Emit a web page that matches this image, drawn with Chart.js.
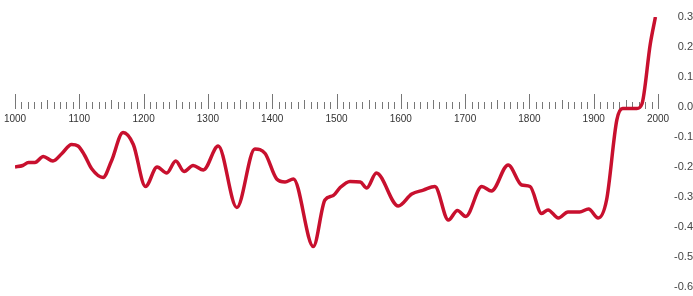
<!DOCTYPE html>
<html>
<head>
<meta charset="utf-8">
<script src="https://cdn.jsdelivr.net/npm/chart.js@4.4.0/dist/chart.umd.min.js"></script>
<style>
  html, body { margin: 0; padding: 0; background: #fff; overflow: hidden; }
  #wrap { width: 693px; height: 296px; }
</style>
</head>
<body>
<div id="wrap"><canvas id="myChart"></canvas></div>
<script>
// years and temperature anomaly
var years = [1000, 1012, 1021, 1031, 1044, 1059, 1073, 1088, 1098, 1108,
  1119, 1137, 1150, 1168, 1184, 1203, 1221, 1236, 1250, 1263,
  1277, 1293, 1316, 1345, 1373, 1389, 1407, 1420, 1433, 1464,
  1482, 1495, 1505, 1521, 1537, 1547, 1562, 1596, 1617, 1635,
  1653, 1674, 1688, 1701, 1726, 1741, 1767, 1788, 1801, 1819,
  1829, 1845, 1860, 1878, 1892, 1907, 1920, 1936, 1945, 1967,
  1975, 1988, 1996];
var anomaly = [-0.20, -0.195, -0.185, -0.185, -0.165, -0.18, -0.155, -0.125, -0.13, -0.16,
  -0.205, -0.235, -0.18, -0.085, -0.125, -0.265, -0.20, -0.22, -0.18, -0.215,
  -0.195, -0.21, -0.13, -0.335, -0.14, -0.155, -0.24, -0.25, -0.24, -0.465,
  -0.31, -0.295, -0.27, -0.248, -0.25, -0.27, -0.22, -0.33, -0.29, -0.277,
  -0.265, -0.377, -0.345, -0.365, -0.265, -0.28, -0.193, -0.26, -0.265, -0.355,
  -0.343, -0.37, -0.35, -0.35, -0.34, -0.37, -0.31, -0.043, -0.005, -0.005,
  0.01, 0.21, 0.30];

var yTicks = [0.3, 0.2, 0.1, 0.0, -0.1, -0.2, -0.3, -0.4, -0.5, -0.6];

var points = years.map(function (y, i) { return { x: y, y: anomaly[i] }; });

// tick marks standing up from the zero line, every 10 years
var rulerTicks = {
  id: "rulerTicks",
  beforeDatasetsDraw: function (chart) {
    var ctx = chart.ctx;
    var xs = chart.scales.x, ys = chart.scales.y;
    var y0 = ys.getPixelForValue(0);
    ctx.save();
    ctx.strokeStyle = "#777";
    ctx.lineWidth = 1;
    for (var yr = 1000; yr <= 2000; yr += 10) {
      var len = yr % 100 === 0 ? 15 : (yr % 50 === 0 ? 9 : 7);
      var px = Math.round(xs.getPixelForValue(yr)) + 0.5;
      ctx.beginPath();
      ctx.moveTo(px, y0 + 2);
      ctx.lineTo(px, y0 + 2 - len);
      ctx.stroke();
    }
    ctx.restore();
  }
};

new Chart("myChart", {
  type: "line",
  data: {
    datasets: [{
      data: points,
      borderColor: "#c8102e",
      borderWidth: 3.5,
      pointRadius: 0,
      fill: false,
      tension: 0.4,
      cubicInterpolationMode: "monotone"
    }]
  },
  options: {
    responsive: true,
    maintainAspectRatio: false,
    animation: false,
    layout: { padding: { left: 15, top: 17, bottom: 9, right: 0 } },
    plugins: { legend: { display: false }, tooltip: { enabled: false } },
    scales: {
      x: {
        type: "linear",
        position: { y: 0 },
        min: 1000,
        max: 2000,
        afterFit: function (s) { s.paddingLeft = 0; s.paddingRight = 0; },
        grid: { display: false, drawTicks: false },
        border: { display: false },
        ticks: {
          stepSize: 100,
          padding: 6,
          maxRotation: 0,
          color: "#333",
          callback: function (v) { return String(v); },
          font: { family: "Liberation Sans, Arial, sans-serif", size: 10 }
        }
      },
      y: {
        position: "right",
        min: -0.6,
        max: 0.3,
        afterFit: function (s) { s.width = 35; },
        afterBuildTicks: function (s) {
          s.ticks = yTicks.map(function (v) { return { value: v }; });
        },
        grid: { display: false, drawTicks: false },
        border: { display: false },
        ticks: {
          padding: -1,
          crossAlign: "far",
          color: "#444",
          callback: function (v) { return v.toFixed(1); },
          font: { family: "Liberation Sans, Arial, sans-serif", size: 11 }
        }
      }
    }
  },
  plugins: [rulerTicks]
});
</script>
</body>
</html>
